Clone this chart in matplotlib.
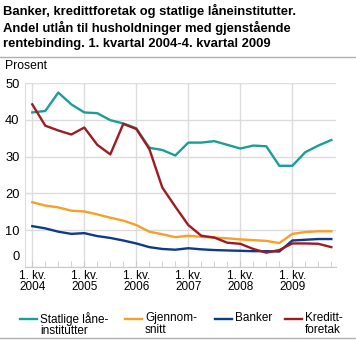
import matplotlib
matplotlib.use("Agg")
from matplotlib import pyplot as plt
from matplotlib.lines import Line2D
from matplotlib.transforms import ScaledTranslation

plt.rcParams['font.family'] = ['Liberation Sans', 'DejaVu Sans']

# quarterly values, 1. kv. 2004 - 4. kv. 2009
quarters = list(range(24))
statlige = [42.0, 42.4, 47.4, 44.2, 42.0, 41.8, 39.9, 39.0, 37.7, 32.4, 31.8, 30.3,
            33.8, 33.8, 34.2, 33.2, 32.2, 33.0, 32.8, 27.5, 27.5, 31.2, 33.0, 34.5]
gjennomsnitt = [17.6, 16.7, 16.2, 15.3, 15.1, 14.3, 13.4, 12.6, 11.4, 9.6, 8.9, 8.1,
                8.5, 8.2, 8.0, 7.8, 7.5, 7.3, 7.1, 6.5, 9.0, 9.5, 9.7, 9.7]
banker = [11.1, 10.5, 9.6, 9.0, 9.2, 8.4, 7.9, 7.2, 6.4, 5.4, 4.9, 4.7,
          5.1, 4.8, 4.6, 4.5, 4.4, 4.3, 4.3, 4.2, 7.2, 7.4, 7.6, 7.6]
kreditt = [44.2, 38.4, 37.1, 36.0, 37.9, 33.2, 30.6, 38.9, 37.5, 32.1, 21.6, 16.4,
           11.4, 8.5, 8.0, 6.6, 6.3, 4.9, 3.9, 4.6, 6.4, 6.4, 6.3, 5.4]

year_ticks = [0, 4, 8, 12, 16, 20]
year_labels = ["1. kv.\n2004", "1. kv.\n2005", "1. kv.\n2006",
               "1. kv.\n2007", "1. kv.\n2008", "1. kv.\n2009"]
series_names = ["Statlige låne-\ninstitutter", "Gjennom-\nsnitt", "Banker", "Kreditt-\nforetak"]
colors = ["#1a9e96", "#f7a028", "#0e3a8a", "#9b1c22"]

fig = plt.figure(figsize=(3.56, 3.41), dpi=100)
ax = fig.add_axes([25/356, 1 - 267/341, 311/356, 184/341])

# draw order: teal, orange, blue, red on top
ax.plot(quarters, statlige, color=colors[0], lw=1.7, zorder=3)
ax.plot(quarters, gjennomsnitt, color=colors[1], lw=1.7, zorder=3)
ax.plot(quarters, banker, color=colors[2], lw=1.7, zorder=3)
ax.plot(quarters, kreditt, color=colors[3], lw=1.7, zorder=4)

ax.set_xlim(-0.56, 23.36)
ax.set_ylim(0, 50)
ax.set_yticks([0, 10, 20, 30, 40, 50])
ax.set_xticks(year_ticks)
ax.set_xticklabels(year_labels, fontsize=8.5, linespacing=0.95)
ax.set_xticks(quarters, minor=True)
ax.tick_params(axis='x', which='both', direction='in', length=4, color='#c8c8c8', pad=2)
ax.tick_params(axis='y', length=0, labelsize=9.3, pad=4)
ax.grid(True, color='#dcdcdc', lw=1)
ax.set_axisbelow(True)
for s in ['top', 'right']:
    ax.spines[s].set_visible(False)
ax.spines['left'].set_color('#dcdcdc')
ax.spines['bottom'].set_color('#c8c8c8')

# lift the "0" label clear of the x labels
zero = ax.get_yticklabels()[0]
zero.set_transform(zero.get_transform() + ScaledTranslation(0, 8/72, fig.dpi_scale_trans))

fig.text(3/356, 1 - 4/341, "Banker, kredittforetak og statlige låneinstitutter.\n"
         "Andel utlån til husholdninger med gjenstående\n"
         "rentebinding. 1. kvartal 2004-4. kvartal 2009",
         fontsize=9.4, fontweight='bold', va='top', ha='left', linespacing=1.3)
fig.add_artist(Line2D([0, 1], [1 - 57/341] * 2, color='#b0b0b0', lw=1))
fig.add_artist(Line2D([0, 1], [1 - 338/341] * 2, color='#b0b0b0', lw=1))
fig.text(5/356, 1 - 66/341, "Prosent", fontsize=8.7, va='center', ha='left')

# legend
handle_x = [20, 125, 215, 285]
for hx, name, c in zip(handle_x, series_names, colors):
    fig.add_artist(Line2D([hx/356, (hx + 17)/356], [1 - 319/341] * 2, color=c, lw=1.7))
    fig.text((hx + 20)/356, 1 - 312/341, name, fontsize=8.5, va='top', ha='left',
             linespacing=0.95)

fig.savefig("out.png", dpi=100)
